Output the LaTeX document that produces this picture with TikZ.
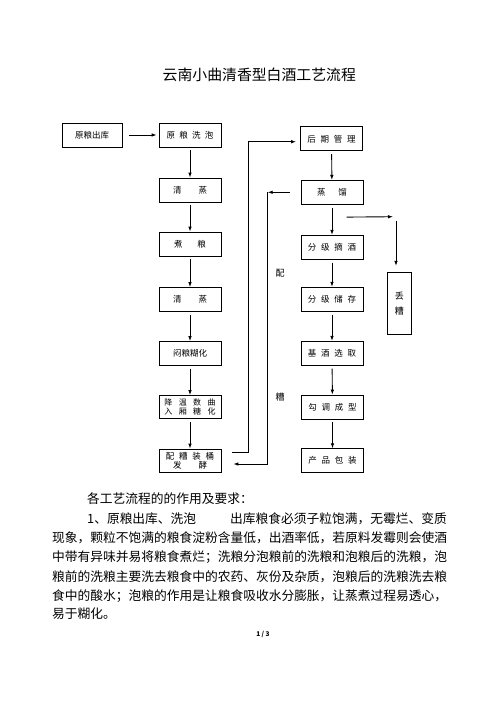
\documentclass[tikz,border=0pt]{standalone}
\usepackage{fontspec}
\setmainfont{Noto Sans CJK SC}
\usetikzlibrary{arrows.meta}

\begin{document}
\begin{tikzpicture}[x=1pt, y=-1pt,
    box/.style={draw, line width=0.8pt, minimum width=62pt, minimum height=24pt, inner sep=0pt, align=center, font=\fontsize{8.5}{9}\selectfont},
    flow/.style={-{Latex[length=5pt,width=3.6pt]}, line width=0.9pt},
    txt/.style={anchor=west, inner sep=0pt, font=\fontsize{12.74}{13}\selectfont}]
    \useasboundingbox (0,0) rectangle (496,702);
    \node[font=\fontsize{14.86}{15}\selectfont] (title) at (259.3,75) {云南小曲清香型白酒工艺流程};

    % left column
    \node[box, minimum width=60pt] (ck) at (92,135) {原粮出库};
    \node[box] (xp) at (190,135) {原\hspace{.5em}粮\hspace{.5em}洗\hspace{.5em}泡};
    \node[box] (qz1) at (190,190) {清\hspace{2em}蒸};
    \node[box] (zl) at (190,244) {煮\hspace{1.75em}粮};
    \node[box] (qz2) at (190,299.5) {清\hspace{2em}蒸};
    \node[box] (mh) at (190,353.5) {闷粮糊化};
    \node[box, minimum height=23pt, font=\fontsize{8}{8.5}\selectfont] (jw) at (190,407) {降\hspace{.8em}温\hspace{.8em}数\hspace{.8em}曲\\入\hspace{.8em}厢\hspace{.8em}糖\hspace{.8em}化};
    \node[box, minimum height=23.5pt, font=\fontsize{8.5}{8.5}\selectfont] (pz) at (190,460.7) {配\hspace{.55em}糟\hspace{.55em}装\hspace{.55em}桶\\发\hspace{2em}酵};

    % right column
    \node[box] (hq) at (331.5,138.8) {后\hspace{.55em}期\hspace{.55em}管\hspace{.55em}理};
    \node[box] (zliu) at (332,192.3) {蒸\hspace{1.5em}馏};
    \node[box] (zj) at (332,247.3) {分\hspace{.55em}级\hspace{.55em}摘\hspace{.55em}酒};
    \node[box] (cc) at (332,299.2) {分\hspace{.55em}级\hspace{.55em}储\hspace{.55em}存};
    \node[box] (jj) at (332,353.3) {基\hspace{.55em}酒\hspace{.55em}选\hspace{.55em}取};
    \node[box] (gt) at (332.5,407) {勾\hspace{.55em}调\hspace{.55em}成\hspace{.55em}型};
    \node[box] (cp) at (332.5,460.7) {产\hspace{.55em}品\hspace{.55em}包\hspace{.55em}装};
    \node[box, minimum width=24pt, minimum height=62pt, font=\fontsize{9}{15}\selectfont] (dz) at (399.4,303.2) {丢\\糟};

    \draw[flow, shorten <=7pt, shorten >=2pt] (ck) -- (xp);
    \foreach \a/\b in {xp/qz1, qz1/zl, zl/qz2, qz2/mh, mh/jw, jw/pz, hq/zliu, zliu/zj, zj/cc, cc/jj, jj/gt, gt/cp}
        \draw[flow, shorten <=3pt] (\a) -- (\b);

    % returns
    \draw[flow, shorten <=11pt, shorten >=4pt] ([yshift=8.4pt]pz.east) -- ++(27.3,0) |- ([yshift=-2.9pt]hq.west);
    \coordinate (pb) at (267.7,192.3);
    \draw[flow, shorten <=11pt] (zliu.west) -- (pb);
    \draw[flow, shorten >=12pt] (pb) |- ([yshift=-3.3pt]pz.east);
    \node[font=\fontsize{9}{9}\selectfont] (pei) at (280,273.3) {配};
    \node[font=\fontsize{9}{9}\selectfont] (zao) at (280,396.7) {糟};

    % spent grain
    \coordinate (dt) at (396,216.7);
    \draw[flow, shorten >=3pt] ([xshift=14.7pt, yshift=-12.4pt]zliu.south) -- (dt);
    \draw[flow, shorten <=4pt, shorten >=6pt] (dt) -- (dt |- dz.north);

    % text
    \node[txt] (h1) at (87,498.3) {各工艺流程的的作用及要求：};
    \node[txt] (l1a) at (87,518.3) {1、原粮出库、洗泡};
    \node[txt, anchor=east] (l1b) at (447,518.3) {出库粮食必须子粒饱满，无霉烂、变质};
    \node[txt] (l2) at (52,537.7) {现象，颗粒不饱满的粮食淀粉含量低，出酒率低，若原料发霉则会使酒};
    \node[txt] (l3) at (52,557.3) {中带有异味并易将粮食煮烂；洗粮分泡粮前的洗粮和泡粮后的洗粮，泡};
    \node[txt] (l4) at (52,576.7) {粮前的洗粮主要洗去粮食中的农药、灰份及杂质，泡粮后的洗粮洗去粮};
    \node[txt] (l5) at (52,595.7) {食中的酸水；泡粮的作用是让粮食吸收水分膨胀，让蒸煮过程易透心，};
    \node[txt] (l6) at (52,613.3) {易于糊化。};
    \node[font=\fontsize{6.5}{7}\selectfont\bfseries] (pg) at (263,634) {1 / 3};
\end{tikzpicture}
\end{document}
